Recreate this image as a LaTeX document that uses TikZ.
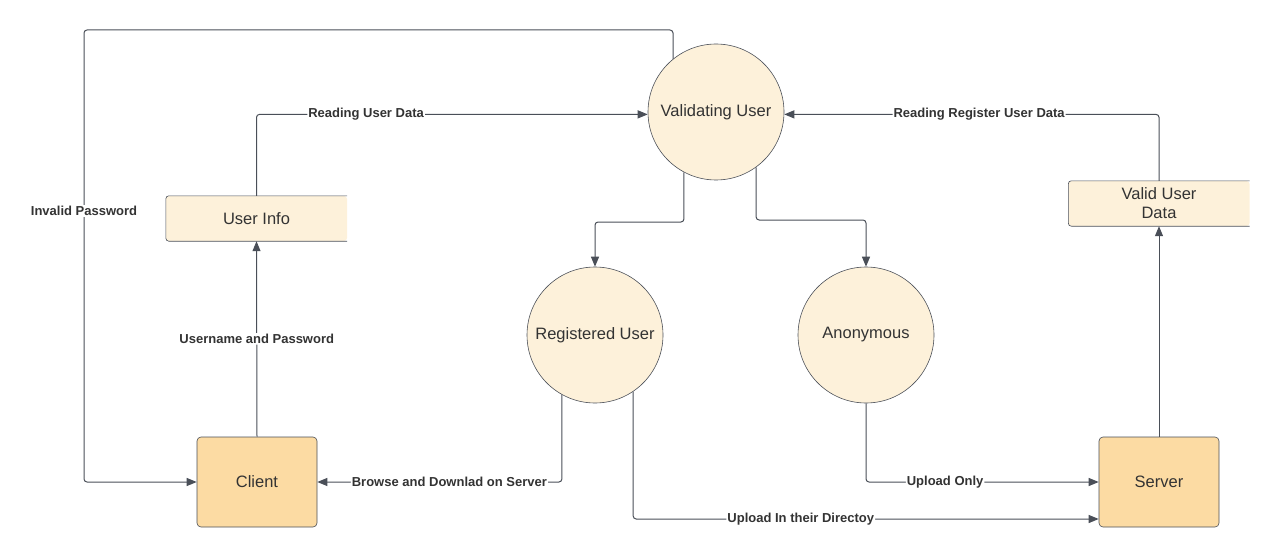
\documentclass[tikz,border=0pt]{standalone}
\usepackage{fontspec}
\setmainfont{Liberation Sans}
\usetikzlibrary{arrows.meta}
\definecolor{procfill}{HTML}{FDF1DA}
\definecolor{entfill}{HTML}{FCDBA3}
\definecolor{linegray}{HTML}{4A4F58}
\definecolor{txtgray}{HTML}{333333}
\begin{document}
\begin{tikzpicture}[x=1pt, y=-1pt,
  process/.style={shape=circle, draw=linegray, fill=procfill, minimum size=136pt, inner sep=0pt, line width=0.6pt, text=txtgray, font=\fontsize{16.5}{19}\selectfont},
  store/.style={fill=procfill, rounded corners=3pt, minimum width=181pt, minimum height=45pt, inner sep=0pt, text=txtgray, font=\fontsize{16.5}{19}\selectfont},
  entity/.style={rectangle, rounded corners=4pt, draw=linegray, fill=entfill, minimum width=120pt, minimum height=90pt, line width=0.6pt, text=txtgray, font=\fontsize{16.5}{19}\selectfont},
  flow/.style={draw=linegray, line width=1pt, rounded corners=3pt, -{Triangle[length=10pt,width=8pt]}},
  lbl/.style={fill=white, inner sep=1pt, text=txtgray, font=\bfseries\fontsize{13}{15}\selectfont}]
\useasboundingbox (0,0) rectangle (1280,559);
\node[process] (VU) at (716,112) {Validating User};
\node[process] (reg) at (595,335) {Registered User};
\node[process] (anon) at (866,335) {Anonymous};
\node[store] (userinfo) at (256.5,218.5) {User Info};
\node[store, align=center] (validdata) at (1159,203.5) {Valid User\\Data};
\node[entity] (client) at (257,482) {Client};
\node[entity] (server) at (1159,482) {Server};
\draw[linegray, line width=0.6pt, rounded corners=3pt] (userinfo.north east) -- (userinfo.north west) -- (userinfo.south west) -- (userinfo.south east);
\draw[linegray, line width=0.6pt, rounded corners=3pt] (validdata.north east) -- (validdata.north west) -- (validdata.south west) -- (validdata.south east);
\coordinate (loop) at (84,30);
\coordinate (regturn) at (595,222);
\coordinate (anonturn) at (866,220);
\draw[flow] (VU.129) |- (loop) |- (client.west);
\node[lbl] (invalid) at (84,211) {Invalid Password};
\draw[flow] (userinfo.north) |- node[lbl, pos=0.64] (readuser) {Reading User Data} (VU.182);
\draw[flow] (client.north) -- node[lbl] (credentials) {Username and Password} (userinfo.south);
\draw[flow] (validdata.north) |- node[lbl, pos=0.74] (readreg) {Reading Register User Data} (VU.358);
\draw[flow] (VU.242) |- (regturn) -- (reg.north);
\draw[flow] (VU.306) |- (anonturn) -- (anon.north);
\draw[flow] (reg.241) |- node[lbl, pos=0.73] (browse) {Browse and Downlad on Server} (client.east);
\draw[flow] (reg.304) |- node[lbl, pos=0.68] (uploaddir) {Upload In their Directoy} ([yshift=-37pt]server.west);
\draw[flow] (anon.south) |- node[lbl, pos=0.67] (uploadonly) {Upload Only} (server.west);
\draw[flow] (server.north) -- (validdata.south);
\end{tikzpicture}
\end{document}
